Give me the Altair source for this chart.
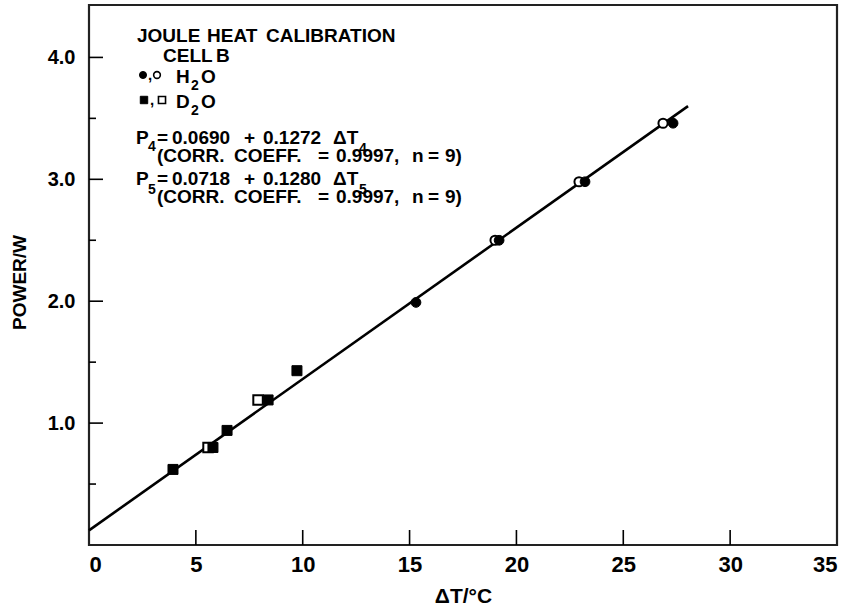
import altair as alt
import pandas as pd

# Joule heat calibration, cell B: power vs. temperature rise
h2o_filled_T = [15.30, 19.19, 23.21, 27.33]
h2o_filled_P = [1.99, 2.50, 2.98, 3.46]
h2o_open_T = [19.00, 22.93, 26.86]
h2o_open_P = [2.50, 2.98, 3.46]
d2o_filled_T = [3.93, 5.80, 6.46, 8.38, 9.73]
d2o_filled_P = [0.62, 0.80, 0.94, 1.19, 1.43]
d2o_open_T = [5.57, 7.91]
d2o_open_P = [0.80, 1.19]

# calibration line endpoints
line_T = [0.0, 28.03]
line_P = [0.12, 3.60]

x_ticks = [5, 10, 15, 20, 25, 30]
x_labels = [0, 5, 10, 15, 20, 25, 30, 35]
y_major = [1.0, 2.0, 3.0, 4.0]
y_minor = [0.5, 1.5, 2.5, 3.5]

W, H = 748, 540
FONT = "Liberation Sans"

xs = alt.Scale(domain=[0, 35], nice=False, zero=False)
ys = alt.Scale(domain=[0, 4.43], nice=False, zero=False)

x_axis = alt.Axis(values=x_labels, format="d", ticks=False, domain=False, grid=False,
                  labelFont=FONT, labelFontSize=22, labelFontWeight="bold",
                  labelColor="#000000", labelPadding=9,
                  title="ΔT/°C", titleFont=FONT, titleFontSize=21, titleFontWeight="bold",
                  titleColor="#000000", titleX=374, titleY=51, titleBaseline="middle",
                  titleAlign="center")
y_axis = alt.Axis(values=y_major, format=".1f", ticks=False, domain=False, grid=False,
                  labelFont=FONT, labelFontSize=20, labelFontWeight="bold",
                  labelColor="#000000", labelPadding=14,
                  title="POWER/W", titleFont=FONT, titleFontSize=19, titleFontWeight="bold",
                  titleColor="#000000", titleAngle=270, titleX=-70, titleY=277,
                  titleBaseline="middle", titleAlign="center")

line_df = pd.DataFrame({"T": line_T, "P": line_P})
base_line = alt.Chart(line_df).mark_line(color="black", strokeWidth=2.6).encode(
    x=alt.X("T:Q", scale=xs, axis=x_axis),
    y=alt.Y("P:Q", scale=ys, axis=y_axis),
)

# inward tick marks
xt = alt.Chart(pd.DataFrame({"t": x_ticks})).mark_rule(color="black", strokeWidth=1.6).encode(
    x=alt.X("t:Q", scale=xs), y=alt.value(H), y2=alt.value(H - 15))
ymj = alt.Chart(pd.DataFrame({"t": y_major})).mark_rule(color="black", strokeWidth=1.6).encode(
    y=alt.Y("t:Q", scale=ys), x=alt.value(0), x2=alt.value(14))
ymn = alt.Chart(pd.DataFrame({"t": y_minor})).mark_rule(color="black", strokeWidth=1.6).encode(
    y=alt.Y("t:Q", scale=ys), x=alt.value(0), x2=alt.value(7))


def pts(T, P, shape, filled, size):
    df = pd.DataFrame({"T": T, "P": P})
    if filled:
        m = alt.Chart(df).mark_point(shape=shape, filled=True, fill="black",
                                     stroke="black", strokeWidth=1, size=size, opacity=1)
    else:
        m = alt.Chart(df).mark_point(shape=shape, filled=True, fill="white",
                                     stroke="black", strokeWidth=2, size=size, opacity=1)
    return m.encode(x=alt.X("T:Q", scale=xs), y=alt.Y("P:Q", scale=ys))


layers = [
    base_line, xt, ymj, ymn,
    pts(d2o_open_T, d2o_open_P, "square", False, 90),
    pts(d2o_filled_T, d2o_filled_P, "square", True, 100),
    pts(h2o_open_T, h2o_open_P, "circle", False, 85),
    pts(h2o_filled_T, h2o_filled_P, "circle", True, 95),
]

ox, oy = 89, 5  # plot-area origin on the page


def txt(s, x, y, size=19, weight="bold"):
    """Text placed by its page position (left edge, baseline)."""
    return alt.Chart(pd.DataFrame({"s": [s]})).mark_text(
        font=FONT, fontSize=size, fontWeight=weight, align="left", baseline="alphabetic",
        color="black").encode(text="s:N", x=alt.value(x - ox), y=alt.value(y - oy))


def words(items, y, size=19):
    return [txt(s, x, y, size) for s, x in items]


def sym(shape, filled, x, y, size):
    return alt.Chart(pd.DataFrame({"k": [0]})).mark_point(
        shape=shape, filled=True, fill="black" if filled else "white", stroke="black",
        strokeWidth=1 if filled else 1.6, size=size, opacity=1).encode(
        x=alt.value(x - ox), y=alt.value(y - oy))


corr_words = [("(CORR.", 157), ("COEFF.", 234), ("=", 318), ("0.9997,", 336),
              ("n", 412), ("=", 428), ("9)", 445)]

notes = (
    words([("JOULE", 137), ("HEAT", 207), ("CALIBRATION", 266)], 42)
    + words([("CELL", 163), ("B", 216)], 62)
    + [sym("circle", True, 143, 75, 50), txt(",", 148, 80, 15),
       sym("circle", False, 157, 75, 45)]
    + words([("H", 176)], 83) + [txt("2", 191, 90, 14)] + words([("O", 201)], 83)
    + [sym("square", True, 144, 100, 55), txt(",", 150, 105, 15),
       sym("square", False, 162, 100, 50)]
    + words([("D", 176)], 108) + [txt("2", 191, 115, 14)] + words([("O", 201)], 108)
    + words([("P", 136)], 144) + [txt("4", 148, 151, 14)]
    + words([("=", 157), ("0.0690", 172), ("+", 244), ("0.1272", 263), ("ΔT", 333)], 144)
    + [txt("4", 359, 153, 14)]
    + words(corr_words, 162)
    + words([("P", 136)], 185) + [txt("5", 148, 194, 14)]
    + words([("=", 157), ("0.0718", 172), ("+", 244), ("0.1280", 263), ("ΔT", 333)], 185)
    + [txt("5", 359, 194, 14)]
    + words(corr_words, 203)
)

chart = alt.layer(*layers, *notes).properties(
    width=W, height=H,
    autosize=alt.AutoSizeParams(type="none"),
    padding={"left": ox, "top": oy, "right": 851 - ox - W, "bottom": 609 - oy - H},
    background="white",
).configure_view(stroke="#222222", strokeWidth=2.2)

chart.save("out.html", embed_options={"renderer": "svg", "actions": False})
